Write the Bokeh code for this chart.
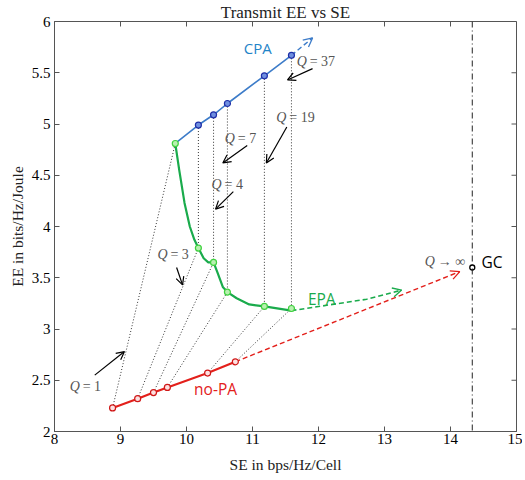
from bokeh.plotting import figure
from bokeh.models import Range1d, FixedTicker, Arrow, OpenHead, Span
from bokeh.core.properties import value
from bokeh.embed import file_html
from bokeh.resources import INLINE

# ---- data ----
q_values = [1, 3, 4, 7, 19, 37]
se_cpa = [9.83, 10.18, 10.41, 10.62, 11.18, 11.59]
ee_cpa = [4.81, 4.99, 5.09, 5.20, 5.47, 5.67]
se_epa = [9.83, 10.18, 10.41, 10.62, 11.18, 11.59]
ee_epa = [4.81, 3.79, 3.65, 3.36, 3.22, 3.20]
se_nopa = [8.88, 9.26, 9.50, 9.71, 10.32, 10.74]
ee_nopa = [2.23, 2.32, 2.38, 2.43, 2.57, 2.68]

# traced shape of the smooth EPA curve
epa_curve_x = [9.83, 9.89, 9.97, 10.05, 10.12, 10.18, 10.26, 10.33, 10.41, 10.47,
               10.55, 10.62, 10.76, 10.95, 11.18, 11.59]
epa_curve_y = [4.81, 4.55, 4.23, 4.00, 3.87, 3.79, 3.69, 3.65, 3.65, 3.55,
               3.41, 3.36, 3.30, 3.24, 3.22, 3.18]
# dashed extensions
cpa_ext_x = [11.59, 11.91]
cpa_ext_y = [5.67, 5.84]
epa_ext_x = [11.59, 11.71, 12.21, 12.73, 13.26]
epa_ext_y = [3.18, 3.19, 3.24, 3.29, 3.38]
nopa_ext_x = [10.74, 14.14]
nopa_ext_y = [2.68, 3.56]
gc_se = 14.33
gc_ee = 3.60

# Q annotations: label left x, label y, arrow start/end
q_label_text = ["= 1", "= 3", "= 4", "= 7", "= 19", "= 37"]
q_label_x = [8.23, 9.56, 10.38, 10.58, 11.36, 11.67]
q_label_y = [2.44, 3.73, 4.41, 4.86, 5.06, 5.61]
q_arrow_x0 = [8.61, 9.85, 10.71, 10.92, 11.52, 11.91]
q_arrow_y0 = [2.55, 3.60, 4.34, 4.79, 4.97, 5.54]
q_arrow_x1 = [9.06, 9.94, 10.44, 10.55, 11.21, 11.53]
q_arrow_y1 = [2.78, 3.43, 4.17, 4.62, 4.62, 5.43]

x_ticks = [8, 9, 10, 11, 12, 13, 14, 15]
y_ticks = [2, 2.5, 3, 3.5, 4, 4.5, 5, 5.5, 6]
y_tick_labels = ["2", "2.5", "3", "3.5", "4", "4.5", "5", "5.5", "6"]

CPA_C = "#3d7cc9"
CPA_T = "#1f84c8"
EPA_C = "#1aab4c"
NOPA_C = "#e3201b"
SERIF = "Liberation Serif"
GRAY = "#555555"

X0, X1, Y0, Y1 = 8, 15, 2, 6
W, H = 522, 476
BL, BR, BT, BB = 54, 6, 20, 45

p = figure(width=W, height=H, output_backend="svg", toolbar_location=None,
           x_range=Range1d(X0, X1), y_range=Range1d(Y0, Y1),
           min_border_left=BL, min_border_right=BR, min_border_top=BT, min_border_bottom=BB,
           title="Transmit EE vs SE")
p.title.text_font = SERIF
p.title.text_font_size = "17px"
p.title.text_font_style = "normal"
p.title.text_color = "#222222"
p.title.align = "center"
p.title.standoff = 0
p.xgrid.visible = False
p.ygrid.visible = False
p.outline_line_color = GRAY
p.background_fill_color = "white"

for ax in (p.xaxis[0], p.yaxis[0]):
    ax.major_tick_in = 5
    ax.major_tick_out = 0
    ax.minor_tick_line_color = None
    ax.axis_line_color = GRAY
    ax.major_tick_line_color = GRAY
    ax.major_label_text_font = SERIF
    ax.major_label_text_font_size = "15px"
    ax.major_label_text_color = "black"
    ax.axis_label_text_font = SERIF
    ax.axis_label_text_font_size = "15.5px"
    ax.axis_label_text_font_style = "normal"
    ax.axis_label_text_color = "#222222"
p.xaxis.ticker = FixedTicker(ticks=x_ticks)
p.yaxis.ticker = FixedTicker(ticks=y_ticks)
p.yaxis.major_label_overrides = {t: l for t, l in zip(y_ticks, y_tick_labels)}
p.xaxis.axis_label = "SE in bps/Hz/Cell"
p.yaxis.axis_label = "EE in bits/Hz/Joule"
p.xaxis.major_label_standoff = 2
p.yaxis.major_label_standoff = 4
p.xaxis.axis_label_standoff = 9
p.yaxis.axis_label_standoff = 3

# inward tick marks on the top and right frame edges (5 px long)
fw = W - BL - BR
fh = H - BT - BB
tlx = 5 * (X1 - X0) / fw
tly = 5 * (Y1 - Y0) / fh
p.segment(x0=x_ticks, y0=[Y1] * len(x_ticks), x1=x_ticks, y1=[Y1 - tly] * len(x_ticks),
          line_color=GRAY, line_width=1)
p.segment(x0=[X1] * len(y_ticks), y0=y_ticks, x1=[X1 - tlx] * len(y_ticks), y1=y_ticks,
          line_color=GRAY, line_width=1)

# dotted connectors
p.segment(x0=se_cpa[1:], y0=ee_cpa[1:], x1=se_epa[1:], y1=ee_epa[1:],
          line_color="black", line_width=0.8, line_dash="1 2")
p.segment(x0=se_nopa, y0=ee_nopa, x1=se_epa, y1=ee_epa,
          line_color="black", line_width=0.8, line_dash="1 2")

# GC vertical line
p.add_layout(Span(location=gc_se, dimension="height", line_color="#222222",
                  line_width=1, line_dash="6 3 1 3"))

# curves
p.line(se_cpa, ee_cpa, line_color=CPA_C, line_width=1.6)
p.line(epa_curve_x, epa_curve_y, line_color=EPA_C, line_width=2.2)
p.line(se_nopa, ee_nopa, line_color=NOPA_C, line_width=2.2)

p.line(cpa_ext_x, cpa_ext_y, line_color=CPA_C, line_width=1.4, line_dash="5 3")
p.line(epa_ext_x, epa_ext_y, line_color=EPA_C, line_width=1.6, line_dash="5 3")
p.line(nopa_ext_x, nopa_ext_y, line_color=NOPA_C, line_width=1.4, line_dash="5 3")
p.add_layout(Arrow(end=OpenHead(size=9, line_color=CPA_C, line_width=1.3),
                   x_start=cpa_ext_x[-2], y_start=cpa_ext_y[-2],
                   x_end=cpa_ext_x[-1], y_end=cpa_ext_y[-1], line_alpha=0))
p.add_layout(Arrow(end=OpenHead(size=9, line_color=EPA_C, line_width=1.3),
                   x_start=epa_ext_x[-2], y_start=epa_ext_y[-2],
                   x_end=epa_ext_x[-1], y_end=epa_ext_y[-1], line_alpha=0))
p.add_layout(Arrow(end=OpenHead(size=9, line_color=NOPA_C, line_width=1.3),
                   x_start=nopa_ext_x[-2], y_start=nopa_ext_y[-2],
                   x_end=nopa_ext_x[-1], y_end=nopa_ext_y[-1], line_alpha=0))

# markers
p.scatter(se_cpa[1:], ee_cpa[1:], size=6, marker="circle", fill_color="#6f8fe0",
          line_color="#1f2fa8", line_width=1.2)
p.scatter(se_epa, ee_epa, size=6, marker="circle", fill_color="#b8f0b0",
          line_color="#3fd13f", line_width=1.2)
p.scatter(se_nopa, ee_nopa, size=6, marker="circle", fill_color="#fde0e0",
          line_color="#d01818", line_width=1.2)
p.scatter([gc_se], [gc_ee], size=5, marker="circle", fill_color="white",
          line_color="black", line_width=1.3)

# Q annotations
for i in range(len(q_values)):
    p.add_layout(Arrow(end=OpenHead(size=8, line_color="black", line_width=1.2),
                       x_start=q_arrow_x0[i], y_start=q_arrow_y0[i],
                       x_end=q_arrow_x1[i], y_end=q_arrow_y1[i],
                       line_color="black", line_width=1.2))
p.text(x=q_label_x, y=q_label_y, text=["Q"] * len(q_label_x), text_font=value(SERIF),
       text_font_style="italic", text_font_size="14px", text_color=GRAY,
       text_align="left", text_baseline="middle")
p.text(x=q_label_x, y=q_label_y, text=q_label_text, text_font=value(SERIF),
       text_font_size="14px", text_color=GRAY, x_offset=13,
       text_align="left", text_baseline="middle")
p.text(x=[13.61], y=[3.66], text=["Q"], text_font=value(SERIF), text_font_style="italic",
       text_font_size="14px", text_color=GRAY, text_align="left", text_baseline="middle")
p.text(x=[13.61], y=[3.66], text=["\u2192 \u221e"], text_font=value(SERIF),
       text_font_size="14px", text_color=GRAY, x_offset=13, text_align="left",
       text_baseline="middle")

# series labels
p.text(x=[11.08], y=[5.74], text=["CPA"], text_font=value("Open Sans"), text_font_size="15px",
       text_color=CPA_T, text_align="center", text_baseline="middle")
p.text(x=[12.05], y=[3.29], text=["EPA"], text_font=value("Open Sans"), text_font_size="15.5px",
       text_color=EPA_C, text_align="center", text_baseline="middle")
p.text(x=[10.44], y=[2.41], text=["no-PA"], text_font=value("Open Sans"), text_font_size="15.5px",
       text_color=NOPA_C, text_align="center", text_baseline="middle")
p.text(x=[14.47], y=[3.65], text=["GC"], text_font=value("Open Sans"), text_font_size="15.5px",
       text_color="black", text_align="left", text_baseline="middle")

open("out.html", "w").write(file_html(p, INLINE))
